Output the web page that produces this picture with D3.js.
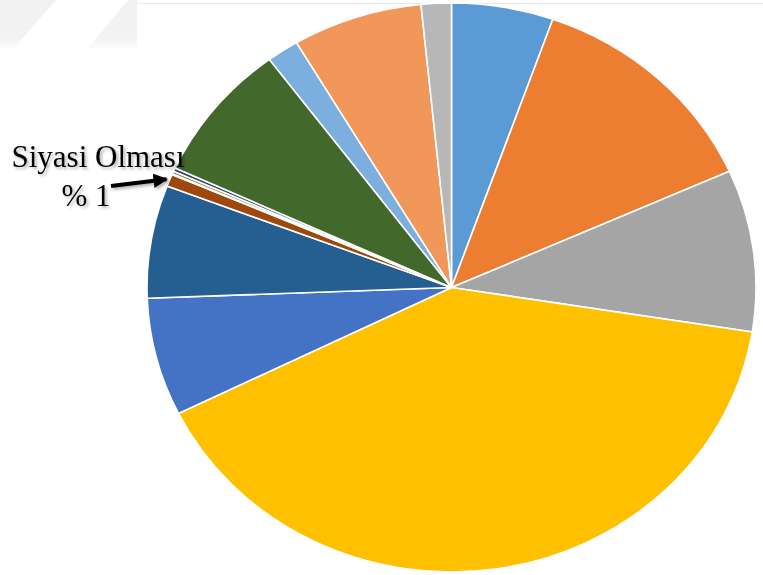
<!DOCTYPE html>
<html>
<head>
<meta charset="utf-8">
<script src="https://cdn.jsdelivr.net/npm/d3@7"></script>
<style>
  html, body { margin: 0; padding: 0; background: #fff; }
  svg { display: block; }
</style>
</head>
<body>
<svg id="chart" width="763" height="575"></svg>
<script>
// Data (percent shares, clockwise from 12 o'clock)
const categories = [
  "Kategori 1", "Kategori 2", "Kategori 3", "Kategori 4", "Kategori 5",
  "Kategori 6", "Kategori 7", "Siyasi Olması", "Kategori 9", "Kategori 10",
  "Kategori 11", "Kategori 12", "Kategori 13", "Kategori 14", "Kategori 15"
];
const values = [5.4, 12.9, 9.2, 40.2, 6.7, 0, 6.4, 0.7, 0.05, 0.15, 0.2, 7.9, 1.7, 6.9, 1.6];
const colors = [
  "#5B9BD5", "#ED7D31", "#A5A5A5", "#FFC000", "#4472C4", "#70AD47",
  "#255E91", "#9E480E", "#636363", "#997300", "#264478", "#43682B",
  "#7CAFDD", "#F1975A", "#B7B7B7"
];
const calloutLabel = ["Siyasi Olması", "% 1"];

const svg = d3.select("#chart");
const defs = svg.append("defs");

// faint background watermark shapes
const fade = defs.append("linearGradient").attr("id", "fade")
  .attr("x1", 0).attr("y1", 0).attr("x2", 0).attr("y2", 1);
fade.append("stop").attr("offset", "0%").attr("stop-color", "#f1f1f1");
fade.append("stop").attr("offset", "80%").attr("stop-color", "#f3f3f3");
fade.append("stop").attr("offset", "100%").attr("stop-color", "#fbfbfb");
const bg = svg.append("g");
bg.append("polygon").attr("points", "0,0 56,0 14,48 0,48").attr("fill", "url(#fade)");
bg.append("polygon").attr("points", "128,0 137,0 137,48 88,48").attr("fill", "url(#fade)");
bg.append("line").attr("x1", 137).attr("x2", 763).attr("y1", 3.5).attr("y2", 3.5)
  .attr("stroke", "#e8e8e8").attr("stroke-width", 1);

const cx = 451.5, cy = 287.5, rx = 304.5, ry = 284.5;

const data = categories.map((c, i) => ({ name: c, value: values[i], color: colors[i] }));

const pie = d3.pie().value(d => d.value).sort(null);
const arc = d3.arc().innerRadius(0).outerRadius(ry);

const g = svg.append("g")
  .attr("transform", `translate(${cx},${cy}) scale(${rx / ry},1)`);

g.selectAll("path")
  .data(pie(data).filter(d => d.data.value > 0))
  .join("path")
  .attr("d", arc)
  .attr("fill", d => d.data.color)
  .attr("stroke", "#fff")
  .attr("stroke-width", 1.6)
  .attr("vector-effect", "non-scaling-stroke");

// callout label
const f = defs.append("filter").attr("id", "shadow").attr("x", "-20%").attr("y", "-20%")
  .attr("width", "140%").attr("height", "160%");
f.append("feDropShadow").attr("dx", 2).attr("dy", 2).attr("stdDeviation", 1.5)
  .attr("flood-color", "#000").attr("flood-opacity", 0.3);

defs.append("marker").attr("id", "arrow").attr("viewBox", "0 0 10 10")
  .attr("refX", 9).attr("refY", 5).attr("markerWidth", 3.6).attr("markerHeight", 3.6)
  .attr("orient", "auto")
  .append("path").attr("d", "M0,0 L10,5 L0,10 Z").attr("fill", "#000");

// position the arrow tip on the "Siyasi Olması" slice edge
const arcs = pie(data);
const target = arcs[7];
const mid = (target.startAngle + target.endAngle) / 2;
const tipR = ry + 3;
const tipX = cx + Math.sin(mid) * tipR * (rx / ry);
const tipY = cy - Math.cos(mid) * tipR;

const lab = svg.append("g").attr("filter", "url(#shadow)");
lab.append("line")
  .attr("x1", 111).attr("y1", 186).attr("x2", tipX).attr("y2", tipY)
  .attr("stroke", "#000").attr("stroke-width", 4)
  .attr("marker-end", "url(#arrow)");
lab.append("text").attr("x", 98).attr("y", 167)
  .attr("text-anchor", "middle")
  .attr("font-family", "'Liberation Serif', 'Times New Roman', serif")
  .attr("font-size", 31).attr("fill", "#000")
  .text(calloutLabel[0]);
lab.append("text").attr("x", 86).attr("y", 206)
  .attr("text-anchor", "middle")
  .attr("font-family", "'Liberation Serif', 'Times New Roman', serif")
  .attr("font-size", 31).attr("fill", "#000")
  .text(calloutLabel[1]);
</script>
</body>
</html>
